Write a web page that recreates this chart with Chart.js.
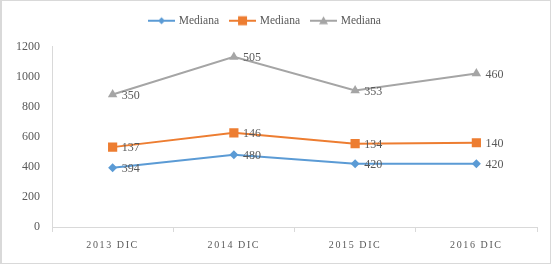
<!DOCTYPE html>
<html>
<head>
<meta charset="utf-8">
<script src="https://cdn.jsdelivr.net/npm/chart.js@4.4.1/dist/chart.umd.min.js"></script>
<style>
  html, body { margin: 0; padding: 0; background: #ffffff; }
  #wrap { position: absolute; left: 0; top: 0; width: 548px; height: 262px; border: 1px solid #d9d9d9; border-left-width: 2px; }
  #c { position: absolute; left: 0; top: 0; }
</style>
</head>
<body>
<div id="wrap"></div>
<canvas id="c" width="552" height="265"></canvas>
<script>
const categories = ['2013 DIC', '2014 DIC', '2015 DIC', '2016 DIC'];
const seriesNames = ['Mediana', 'Mediana', 'Mediana'];
const blueValues = [394, 480, 420, 420];
const orangeValues = [137, 146, 134, 140];
const greyValues = [350, 505, 353, 460];
const yTicks = [0, 200, 400, 600, 800, 1000, 1200];

const colors = ['#5B9BD5', '#ED7D31', '#A5A5A5'];
const styles = ['rectRot', 'rect', 'triangle'];
const radii = [4.5, 6.5, 5.5];
const TEXT = '#595959';
const SERIF = '"Liberation Serif", "Times New Roman", serif';

function legendIcon(color, style) {
  const cv = document.createElement('canvas');
  cv.width = 27; cv.height = 12;
  const ctx = cv.getContext('2d');
  ctx.strokeStyle = color; ctx.lineWidth = 2;
  ctx.beginPath(); ctx.moveTo(0, 6); ctx.lineTo(27, 6); ctx.stroke();
  ctx.fillStyle = color;
  ctx.beginPath();
  if (style === 'rectRot') {
    ctx.moveTo(13.5, 2.5); ctx.lineTo(17, 6); ctx.lineTo(13.5, 9.5); ctx.lineTo(10, 6);
  } else if (style === 'rect') {
    ctx.rect(9, 1.5, 9, 9);
  } else {
    ctx.moveTo(13.5, 1.5); ctx.lineTo(18, 9.5); ctx.lineTo(9, 9.5);
  }
  ctx.closePath(); ctx.fill();
  return cv;
}

const valueLabels = {
  id: 'valueLabels',
  afterDatasetsDraw(chart) {
    const ctx = chart.ctx;
    ctx.save();
    ctx.font = '12px ' + SERIF;
    ctx.fillStyle = TEXT;
    ctx.textAlign = 'left';
    ctx.textBaseline = 'middle';
    chart.data.datasets.forEach((ds, i) => {
      const meta = chart.getDatasetMeta(i);
      meta.data.forEach((pt, j) => {
        ctx.fillText(String(ds.data[j]), pt.x + 9, pt.y + 1);
      });
    });
    ctx.restore();
  }
};

const layoutTweaks = {
  id: 'layoutTweaks',
  beforeLayout(chart) {
    const lg = chart.legend;
    if (lg && !lg._patched) {
      const origFit = lg.fit.bind(lg);
      lg.fit = function () { origFit(); this.height += 10; };
      lg._patched = true;
    }
  },
  afterLayout(chart) {
    const lg = chart.legend;
    if (lg) { lg.left -= 8; lg.right -= 8; }
    const sx = chart.scales.x;
    if (sx && !sx._patched) {
      const orig = sx.drawLabels.bind(sx);
      sx.drawLabels = function (area) {
        const ctx = chart.ctx;
        const prev = ctx.letterSpacing;
        ctx.letterSpacing = '1.6px';
        orig(area);
        ctx.letterSpacing = prev || '0px';
      };
      sx._patched = true;
    }
  }
};

const datasetValues = [blueValues, orangeValues, greyValues];

new Chart(document.getElementById('c'), {
  type: 'line',
  data: {
    labels: categories,
    datasets: datasetValues.map((vals, i) => ({
      label: seriesNames[i],
      data: vals,
      borderColor: colors[i],
      backgroundColor: colors[i],
      borderWidth: 2,
      pointStyle: styles[i],
      pointRadius: radii[i],
      pointHoverRadius: radii[i],
      pointBorderWidth: 0,
      fill: false,
      tension: 0
    }))
  },
  options: {
    responsive: false,
    animation: false,
    events: [],
    layout: { padding: { left: 10, right: 15, top: 3, bottom: 8 } },
    plugins: {
      tooltip: { enabled: false },
      legend: {
        position: 'top',
        align: 'center',
        labels: {
          usePointStyle: true,
          pointStyleWidth: 23,
          boxHeight: 12,
          padding: 12,
          color: TEXT,
          font: { family: SERIF, size: 11.5 },
          generateLabels(chart) {
            return chart.data.datasets.map((ds, i) => ({
              text: ds.label,
              fillStyle: colors[i],
              strokeStyle: colors[i],
              pointStyle: legendIcon(colors[i], styles[i]),
              lineWidth: 0,
              fontColor: TEXT,
              hidden: false,
              datasetIndex: i
            }));
          }
        }
      }
    },
    scales: {
      x: {
        offset: true,
        grid: { display: true, offset: true, drawOnChartArea: false, drawTicks: true, tickLength: 5, color: '#d9d9d9' },
        border: { display: true, color: '#d9d9d9', width: 1 },
        ticks: { color: TEXT, font: { family: SERIF, size: 10 }, padding: 7, maxRotation: 0 },
        afterFit(s) { s.height = 30; }
      },
      y: {
        stacked: true,
        min: 0, max: 1200,
        afterBuildTicks(s) { s.ticks = yTicks.map(v => ({ value: v })); },
        grid: { display: false, drawTicks: false },
        border: { display: true, color: '#d9d9d9', width: 1 },
        ticks: { color: TEXT, font: { family: SERIF, size: 12 }, padding: 12, callback: v => String(v) },
        afterFit(s) { s.width = 42; }
      }
    }
  },
  plugins: [valueLabels, layoutTweaks]
});
</script>
</body>
</html>
